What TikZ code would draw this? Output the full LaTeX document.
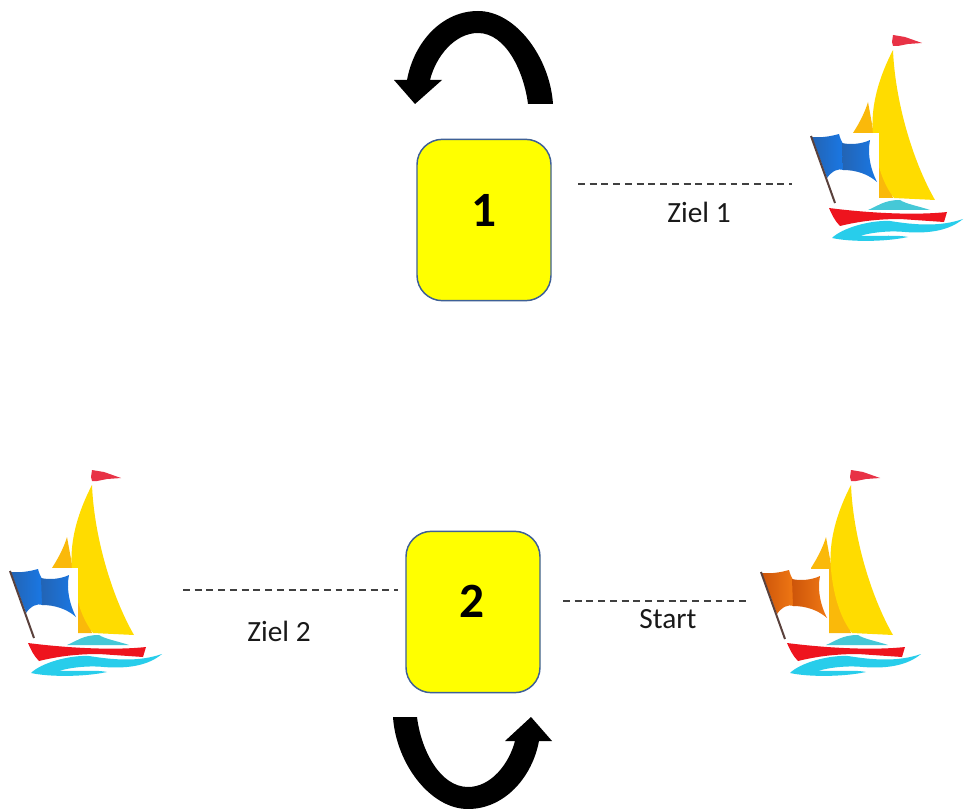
\documentclass[tikz,border=0pt]{standalone}
\usepackage{fontspec}
\setmainfont{Carlito}
\definecolor{cardfill}{RGB}{255,255,0}
\definecolor{cardline}{RGB}{62,96,150}
\definecolor{sailA}{RGB}{255,220,0}
\definecolor{sailB}{RGB}{250,185,10}
\definecolor{hullred}{RGB}{238,20,30}
\definecolor{wavecy}{RGB}{40,205,235}
\definecolor{deckcy}{RGB}{70,200,215}
\definecolor{pennant}{RGB}{232,50,70}
\definecolor{flagblueL}{RGB}{25,120,230}
\definecolor{flagblueD}{RGB}{35,100,180}
\definecolor{flagorL}{RGB}{240,120,20}
\definecolor{flagorD}{RGB}{205,85,10}
\definecolor{poleb}{RGB}{90,65,60}
\tikzset{
  x=0.75pt,y=-0.75pt,
  card/.style={draw=cardline,line width=1.1pt,fill=cardfill,rounded corners=19pt,inner sep=0pt,minimum width=100.5pt,minimum height=121pt},
  num/.style={font=\bfseries\fontsize{37}{37}\selectfont,inner sep=0pt},
  lbl/.style={font=\fontsize{22}{24}\selectfont,inner sep=0pt,text=black!90},
  link/.style={dash pattern=on 5.2pt off 3.6pt,line width=0.9pt,black!75},
  turn/.style={fill=black,draw=none},
  boat/.pic={
    \fill[sailB] (53,113) .. controls (60,102) and (65,92) .. (68,82) -- (74,115) -- (93,178) -- (70,178) -- cycle;
    \fill[sailA] (93,30) .. controls (80,55) and (70,85) .. (73,115) .. controls (76,145) and (84,165) .. (94,178) -- (135,180) .. controls (112,140) and (95,80) .. (93,30) -- cycle;
    \fill[pennant] (92,22) -- (93,15) -- (105,17) -- (122,23) -- (108,24) -- (98,26) -- (93,26) -- cycle;
    \fill[deckcy] (68,190) .. controls (78,186) and (84,180) .. (100,180) .. controls (106,184) and (118,186) .. (130,190) -- cycle;
    \fill[hullred] (29,188) .. controls (60,192) and (110,196) .. (147,192) -- (144,202) -- (100,199) .. controls (80,199) and (60,201) .. (40,206) .. controls (35,201) and (32,195) .. (29,188) -- cycle;
    \fill[wavecy] (32,218) .. controls (42,208) and (70,200) .. (90,201) .. controls (115,205) and (140,207) .. (163,199) .. controls (150,210) and (130,214) .. (105,212) .. controls (85,210) and (65,214) .. (60,216) .. controls (80,216) and (100,215) .. (108,217) .. controls (85,222) and (50,222) .. (32,218) -- cycle;
  },
  bflag/.pic={
    \fill[white] (35,113) rectangle (79,185);
    \shade[left color=\flagD,right color=\flagL] (12,117)
      .. controls (22,118) and (32,116) .. (39,114)
      .. controls (40,118) and (41,120) .. (43,124)
      -- (44,150)
      .. controls (38,148) and (32,151) .. (27,158) -- cycle;
    \shade[left color=\flagD,right color=\flagL] (42,123)
      .. controls (50,125) and (62,124) .. (70,120)
      .. controls (67,135) and (71,150) .. (77,162)
      .. controls (68,154) and (56,150) .. (43,150) -- cycle;
    \draw[poleb,line width=1.5pt] (11,116) -- (35,183);
  }
}
\begin{document}
\begin{tikzpicture}
\useasboundingbox (0,0) rectangle (964,809);
\fill[white] (0,0) rectangle (964,809);

% boats
\begin{scope}[shift={(800,20)}]
  \pic {boat};
  \def\flagL{flagblueL}\def\flagD{flagblueD}
  \pic {bflag};
\end{scope}
\begin{scope}[shift={(-1,455)}]
  \pic {boat};
  \def\flagL{flagblueL}\def\flagD{flagblueD}
  \pic {bflag};
\end{scope}
\begin{scope}[shift={(758,455)}]
  \pic {boat};
\end{scope}
\begin{scope}[shift={(750,456)}]
  \def\flagL{flagorL}\def\flagD{flagorD}
  \pic {bflag};
\end{scope}

% cards
\node[card] (c1) at (484,220) {};
\node[card] (c2) at (473,612) {};
\node[num] (n1) at (484,210) {1};
\node[num] (n2) at (472,601) {2};

% dashed links
\coordinate (z1a) at (578,184); \coordinate (z1b) at (792,184);
\coordinate (z2a) at (183,590); \coordinate (z2b) at (398,590);
\coordinate (sa) at (563,601);  \coordinate (sb) at (750,601);
\draw[link] (z1a) -- (z1b);
\draw[link] (z2a) -- (z2b);
\draw[link] (sa) -- (sb);
\node[lbl] (t1) at (699,212) {Ziel 1};
\node[lbl] (t2) at (279,631) {Ziel 2};
\node[lbl] (t3) at (668,619) {Start};

% turn arrows
\fill[turn] (553,104) -- (528,104)
  .. controls (524,72) and (506,33) .. (478,33)
  .. controls (455,33) and (436,56) .. (430,80)
  -- (442,80) -- (415,104) -- (394,80) -- (407,80)
  .. controls (414,42) and (442,11) .. (478,11)
  .. controls (516,11) and (550,58) .. (553,104) -- cycle;
\fill[turn] (393,717) -- (417,717)
  .. controls (421,750) and (440,787) .. (468,787)
  .. controls (491,787) and (509,764) .. (515,741)
  -- (505,741) -- (531,717) -- (552,741) -- (539,741)
  .. controls (532,778) and (504,809) .. (468,809)
  .. controls (430,809) and (396,763) .. (393,717) -- cycle;
\end{tikzpicture}
\end{document}
